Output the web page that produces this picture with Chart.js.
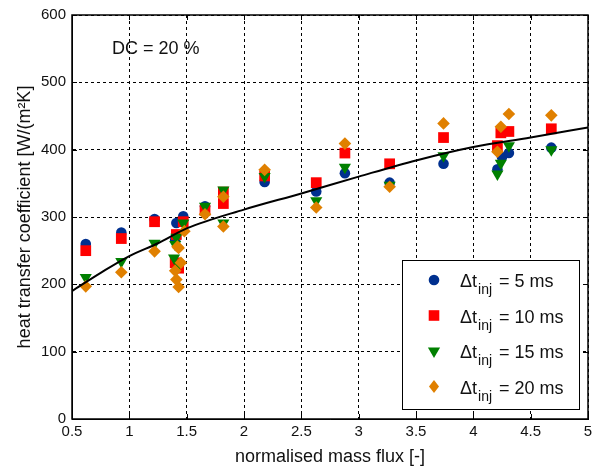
<!DOCTYPE html>
<html lang="en">
<head>
<meta charset="UTF-8">
<title>DC = 20 %</title>
<script src="https://cdn.jsdelivr.net/npm/chart.js@4.4.0/dist/chart.umd.min.js"></script>
<style>
    body { margin: 0; background: #fff; }
</style>
</head>
<body>
<canvas id="chart" width="605" height="470"></canvas>
<script>
    // axis ticks
    var xTicks = [0.5, 1, 1.5, 2, 2.5, 3, 3.5, 4, 4.5, 5];
    var yTicks = [0, 100, 200, 300, 400, 500, 600];

    // dt_inj = 5 ms
    var x5 = [0.62, 0.93, 1.22, 1.41, 1.47, 1.40, 1.66, 2.18, 2.63, 2.88, 3.27, 3.74, 4.21, 4.25, 4.31, 4.68];
    var y5 = [260, 277, 297, 291, 301, 266, 316, 352, 338, 365, 351, 379, 371, 389, 395, 403];
    // dt_inj = 10 ms
    var x10 = [0.62, 0.93, 1.22, 1.41, 1.47, 1.40, 1.43, 1.66, 1.82, 1.82, 2.18, 2.63, 2.88, 3.27, 3.74, 4.21, 4.24, 4.31, 4.68];
    var y10 = [250, 268, 293, 274, 293, 232, 224, 310, 337, 320, 361, 351, 395, 379, 418, 406, 425, 427, 431];
    // dt_inj = 15 ms
    var x15 = [0.62, 0.93, 1.22, 1.47, 1.41, 1.39, 1.43, 1.40, 1.66, 1.82, 1.82, 2.18, 2.63, 2.88, 3.27, 3.74, 4.21, 4.24, 4.31, 4.68];
    var y15 = [210, 234, 261, 291, 270, 239, 230, 259, 316, 340, 291, 360, 324, 374, 347, 391, 364, 380, 406, 400];
    // dt_inj = 20 ms
    var x20 = [0.62, 0.93, 1.22, 1.48, 1.42, 1.40, 1.41, 1.43, 1.45, 1.43, 1.66, 1.82, 1.82, 2.18, 2.63, 2.88, 3.27, 3.74, 4.21, 4.24, 4.31, 4.68];
    var y20 = [197, 218, 249, 279, 256, 220, 207, 196, 232, 254, 304, 330, 286, 370, 314, 409, 345, 439, 397, 434, 453, 451];

    // correlation curve
    var fitX = [0.5, 0.75, 1, 1.25, 1.5, 2, 2.5, 3, 3.5, 4, 4.5, 5];
    var fitY = [190, 217, 242, 261, 283, 311, 335, 360, 384, 404, 418, 433];

    var seriesLabels = ['5 ms', '10 ms', '15 ms', '20 ms'];
    var seriesColors = ['#00308f', '#ff0000', '#008000', '#e08000'];

    function pts(xs, ys) {
        return xs.map(function (v, i) { return { x: v, y: ys[i] }; });
    }

    var FONT = '"Liberation Sans", Arial, sans-serif';

    // draws a legend marker by hand
    function marker(ctx, kind, x, y, color) {
        ctx.fillStyle = color;
        ctx.beginPath();
        if (kind === 'circle') {
            ctx.arc(x, y, 5.3, 0, Math.PI * 2);
        } else if (kind === 'rect') {
            ctx.rect(x - 5.3, y - 5.3, 10.6, 10.6);
        } else if (kind === 'tri') {
            ctx.moveTo(x - 6.1, y - 3.5);
            ctx.lineTo(x + 6.1, y - 3.5);
            ctx.lineTo(x, y + 7);
            ctx.closePath();
        } else {
            ctx.moveTo(x, y - 6.5);
            ctx.lineTo(x + 5, y);
            ctx.lineTo(x, y + 6.5);
            ctx.lineTo(x - 5, y);
            ctx.closePath();
        }
        ctx.fill();
    }

    var framePlugin = {
        id: 'frame',
        afterDatasetsDraw: function (chart) {
            var ctx = chart.ctx, a = chart.chartArea;
            var sx = chart.scales.x, sy = chart.scales.y;
            ctx.save();
            ctx.strokeStyle = '#000';
            ctx.lineWidth = 1;
            ctx.beginPath();
            xTicks.forEach(function (v) {
                var px = Math.round(sx.getPixelForValue(v)) + 0.5;
                ctx.moveTo(px, a.bottom); ctx.lineTo(px, a.bottom - 5);
                ctx.moveTo(px, a.top); ctx.lineTo(px, a.top + 5);
            });
            yTicks.forEach(function (v) {
                var py = Math.round(sy.getPixelForValue(v)) + 0.5;
                ctx.moveTo(a.left, py); ctx.lineTo(a.left + 5, py);
                ctx.moveTo(a.right, py); ctx.lineTo(a.right - 5, py);
            });
            ctx.stroke();
            ctx.lineWidth = 1.5;
            ctx.strokeRect(a.left, a.top, a.right - a.left, a.bottom - a.top);

            // annotation
            ctx.fillStyle = '#111';
            ctx.font = '18px ' + FONT;
            ctx.textBaseline = 'middle';
            ctx.fillText('DC = 20 %', a.left + 40, a.top + 34);

            // legend box
            var bx = a.right - 186, by = a.bottom - 159, bw = 177, bh = 149;
            ctx.fillStyle = '#fff';
            ctx.fillRect(bx, by, bw, bh);
            ctx.lineWidth = 1;
            ctx.strokeStyle = '#000';
            ctx.strokeRect(bx + 0.5, by + 0.5, bw, bh);
            var kinds = ['circle', 'rect', 'tri', 'diamond'];
            ctx.textBaseline = 'alphabetic';
            for (var i = 0; i < 4; i++) {
                var cy = by + 20 + i * 35.5;
                marker(ctx, kinds[i], bx + 32, cy, seriesColors[i]);
                ctx.fillStyle = '#111';
                ctx.font = '18px ' + FONT;
                ctx.fillText('\u0394t', bx + 58, cy + 7);
                var w = ctx.measureText('\u0394t').width;
                ctx.font = '14px ' + FONT;
                ctx.fillText('inj', bx + 58 + w + 1, cy + 14);
                var w2 = ctx.measureText('inj').width;
                ctx.font = '18px ' + FONT;
                ctx.fillText(' = ' + seriesLabels[i], bx + 58 + w + w2 + 3, cy + 7);
            }
            ctx.restore();
        }
    };

    var ctx = document.getElementById('chart').getContext('2d');

    var config = {
        type: 'scatter',
        data: {
            datasets: [
                {
                    label: 'fit', type: 'line', data: pts(fitX, fitY),
                    borderColor: '#000', borderWidth: 2, pointRadius: 0,
                    cubicInterpolationMode: 'monotone', fill: false, order: -1
                },
                {
                    label: seriesLabels[0], data: pts(x5, y5), pointStyle: 'circle',
                    pointRadius: 5.3, backgroundColor: seriesColors[0], borderWidth: 0, order: 4
                },
                {
                    label: seriesLabels[1], data: pts(x10, y10), pointStyle: 'rect',
                    pointRadius: 7.6, backgroundColor: seriesColors[1], borderWidth: 0, order: 3
                },
                {
                    label: seriesLabels[2], data: pts(x15, y15), pointStyle: 'triangle', rotation: 180,
                    pointRadius: 7, backgroundColor: seriesColors[2], borderWidth: 0, order: 2
                },
                {
                    label: seriesLabels[3], data: pts(x20, y20), pointStyle: 'rectRot',
                    pointRadius: 6.3, backgroundColor: seriesColors[3], borderWidth: 0, order: 1
                }
            ]
        },
        options: {
            responsive: false,
            animation: false,
            devicePixelRatio: 1,
            layout: { padding: { left: 0, right: 17, top: 12, bottom: 0 } },
            plugins: { legend: { display: false }, tooltip: { enabled: false } },
            scales: {
                x: {
                    type: 'linear', min: 0.5, max: 5,
                    afterBuildTicks: function (s) { s.ticks = xTicks.map(function (v) { return { value: v }; }); },
                    afterFit: function (s) { s.height = 51; },
                    ticks: { color: '#111', font: { family: FONT, size: 15 }, padding: 4, maxRotation: 0,
                        callback: function (v) { return String(v); } },
                    grid: { color: '#000', lineWidth: 1, drawTicks: false },
                    border: { display: true, color: '#000', dash: [3, 3] },
                    title: { display: true, text: 'normalised mass flux [-]', color: '#111',
                        font: { family: FONT, size: 18 }, padding: { top: 0, bottom: 2 } }
                },
                y: {
                    type: 'linear', min: 0, max: 600,
                    afterBuildTicks: function (s) { s.ticks = yTicks.map(function (v) { return { value: v }; }); },
                    afterFit: function (s) { s.width = 72; },
                    ticks: { color: '#111', font: { family: FONT, size: 15 }, padding: 6,
                        callback: function (v) { return String(v); } },
                    grid: { color: '#000', lineWidth: 1, drawTicks: false },
                    border: { display: true, color: '#000', dash: [3, 3] },
                    title: { display: true, text: 'heat transfer coefficient [W/(m\u00b2K]', color: '#111',
                        font: { family: FONT, size: 18 }, padding: { top: 14, bottom: 0 } }
                }
            }
        },
        plugins: [framePlugin]
    };

    new Chart(ctx, config);
</script>
</body>
</html>
